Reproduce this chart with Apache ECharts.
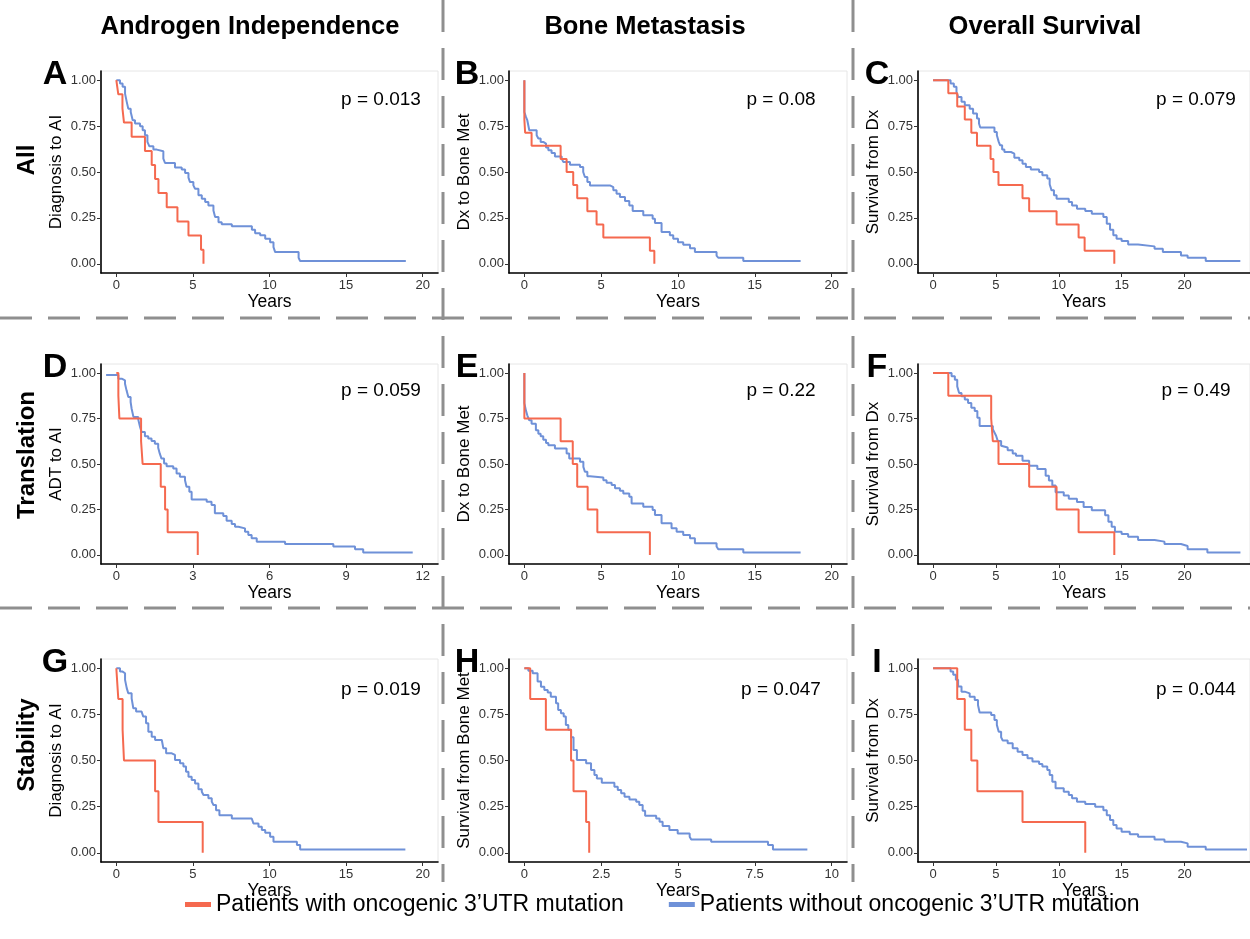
<!DOCTYPE html>
<html>
<head>
<meta charset="utf-8">
<script src="https://cdn.jsdelivr.net/npm/echarts@6/dist/echarts.min.js"></script>
<style>
  html, body { margin: 0; background: #fff; }
  #chart { width: 1250px; height: 939px; }
</style>
</head>
<body>
<div id="chart"></div>
<script>
// Kaplan-Meier curves, [years, survival] pairs
const aWith = [[0,1],[0.13,0.923],[0.4,0.846],[0.5,0.769],[1.0,0.692],[1.87,0.615],[2.31,0.538],[2.53,0.462],[2.75,0.385],[3.29,0.308],[3.99,0.231],[4.71,0.154],[5.53,0.077],[5.69,0]];
const aWithout = [[0,1],[0.24,0.982],[0.41,0.964],[0.57,0.927],[0.68,0.882],[0.78,0.845],[0.94,0.827],[1.07,0.782],[1.22,0.764],[1.55,0.749],[1.72,0.727],[1.87,0.70],[2.03,0.664],[2.16,0.64],[2.42,0.622],[2.64,0.613],[3.07,0.573],[3.18,0.549],[3.83,0.524],[4.27,0.513],[4.49,0.495],[4.71,0.469],[4.81,0.445],[5.03,0.427],[5.14,0.409],[5.36,0.373],[5.58,0.355],[5.80,0.336],[6.01,0.318],[6.34,0.291],[6.45,0.255],[6.67,0.227],[6.88,0.215],[7.54,0.204],[8.85,0.185],[9.06,0.167],[9.39,0.155],[9.72,0.136],[10.04,0.118],[10.26,0.091],[10.37,0.064],[11.90,0.033],[12.0,0.015],[18.9,0.015]];

const bWith = [[0,1],[0,0.786],[0.05,0.714],[0.47,0.643],[2.36,0.571],[2.75,0.5],[3.18,0.429],[3.44,0.357],[4.1,0.286],[4.7,0.214],[5.14,0.143],[8.17,0.071],[8.46,0]];
const bWithout = [[0,1],[0,0.827],[0.10,0.80],[0.19,0.782],[0.32,0.727],[0.80,0.70],[0.91,0.682],[1.06,0.664],[1.23,0.655],[1.41,0.633],[1.56,0.618],[1.77,0.604],[1.99,0.585],[2.43,0.573],[2.53,0.555],[2.97,0.54],[3.62,0.527],[3.83,0.5],[3.94,0.473],[4.1,0.445],[4.27,0.427],[5.57,0.418],[5.79,0.4],[6.0,0.382],[6.22,0.364],[6.55,0.342],[6.83,0.318],[7.05,0.287],[7.74,0.264],[8.35,0.245],[8.5,0.222],[8.93,0.173],[9.47,0.155],[9.69,0.136],[10.0,0.118],[10.34,0.104],[10.78,0.085],[11.1,0.064],[12.51,0.045],[12.62,0.033],[14.25,0.015],[17.98,0.015]];

const cWith = [[0,1],[1.21,0.929],[1.92,0.857],[2.52,0.786],[3.04,0.714],[3.49,0.643],[4.57,0.571],[4.80,0.5],[5.20,0.429],[7.11,0.357],[7.64,0.286],[9.82,0.214],[11.57,0.143],[12.05,0.071],[14.41,0]];
const cWithout = [[0,1],[1.39,0.982],[1.65,0.964],[1.86,0.936],[1.99,0.909],[2.26,0.882],[2.52,0.864],[2.91,0.845],[3.18,0.818],[3.49,0.791],[3.65,0.764],[3.75,0.742],[4.88,0.718],[5.07,0.70],[5.22,0.664],[5.33,0.645],[5.49,0.622],[5.67,0.609],[6.19,0.6],[6.46,0.578],[6.85,0.564],[7.11,0.545],[7.38,0.527],[7.77,0.513],[8.43,0.5],[8.69,0.482],[9.08,0.464],[9.27,0.433],[9.42,0.4],[9.61,0.373],[9.82,0.355],[10.79,0.336],[11.05,0.318],[11.44,0.3],[12.1,0.287],[12.62,0.273],[13.54,0.255],[13.81,0.218],[14.07,0.185],[14.33,0.155],[14.59,0.136],[14.99,0.124],[15.51,0.105],[16.3,0.095],[17.61,0.082],[18.27,0.064],[19.71,0.045],[20.24,0.033],[21.68,0.015],[24.43,0.015]];

const dWith = [[0,1],[0.08,0.875],[0.12,0.75],[0.97,0.625],[1.03,0.5],[1.74,0.375],[1.91,0.25],[2.01,0.125],[3.19,0]];
const dWithout = [[-0.4,0.99],[0.08,0.969],[0.21,0.96],[0.34,0.941],[0.40,0.905],[0.47,0.868],[0.56,0.841],[0.60,0.804],[0.67,0.759],[0.86,0.744],[0.93,0.704],[0.99,0.676],[1.12,0.653],[1.25,0.64],[1.38,0.627],[1.51,0.612],[1.64,0.59],[1.70,0.558],[1.77,0.53],[1.87,0.503],[1.97,0.488],[2.23,0.475],[2.36,0.448],[2.49,0.43],[2.69,0.411],[2.75,0.375],[2.86,0.347],[2.95,0.305],[3.54,0.293],[3.73,0.274],[3.86,0.229],[4.19,0.214],[4.32,0.188],[4.52,0.17],[4.65,0.155],[4.78,0.146],[5.04,0.128],[5.17,0.11],[5.30,0.091],[5.50,0.073],[6.61,0.06],[8.50,0.046],[9.35,0.031],[9.67,0.013],[11.61,0.013]];

const eWith = [[0,1],[0,0.75],[2.36,0.625],[3.15,0.5],[3.44,0.375],[4.12,0.25],[4.75,0.125],[8.17,0]];
const eWithout = [[0,1],[0,0.835],[0.10,0.795],[0.19,0.768],[0.32,0.74],[0.47,0.722],[0.75,0.686],[0.91,0.667],[1.06,0.653],[1.23,0.634],[1.41,0.616],[1.56,0.603],[1.99,0.585],[2.75,0.558],[2.92,0.53],[3.62,0.512],[3.84,0.484],[3.94,0.457],[4.1,0.433],[4.27,0.426],[5.14,0.411],[5.35,0.397],[5.68,0.384],[5.9,0.366],[6.22,0.353],[6.44,0.338],[6.83,0.32],[6.98,0.283],[7.74,0.265],[8.35,0.247],[8.5,0.219],[8.93,0.174],[9.58,0.146],[9.91,0.128],[10.34,0.11],[10.78,0.091],[11.1,0.064],[12.51,0.046],[12.62,0.031],[14.25,0.013],[17.98,0.013]];

const fWith = [[0,1],[1.21,0.875],[4.62,0.75],[4.75,0.625],[5.2,0.5],[7.64,0.375],[9.82,0.25],[11.57,0.125],[14.41,0]];
const fWithout = [[0,1],[1.47,0.982],[1.73,0.964],[1.92,0.927],[2.07,0.891],[2.26,0.873],[2.52,0.855],[2.78,0.836],[3.04,0.809],[3.31,0.791],[3.52,0.755],[3.7,0.709],[4.75,0.691],[4.88,0.673],[5.01,0.655],[5.14,0.627],[5.41,0.6],[5.54,0.591],[5.93,0.576],[6.33,0.558],[6.59,0.545],[7.11,0.518],[7.64,0.491],[8.29,0.473],[8.95,0.436],[9.21,0.409],[9.48,0.382],[9.74,0.345],[10.39,0.327],[10.79,0.309],[11.44,0.291],[11.97,0.264],[12.62,0.245],[13.68,0.218],[13.94,0.182],[14.2,0.155],[14.46,0.127],[14.99,0.115],[15.51,0.1],[16.3,0.082],[17.61,0.073],[18.4,0.06],[19.71,0.049],[20.24,0.031],[21.81,0.013],[24.44,0.013]];

const gWith = [[0,1],[0.13,0.833],[0.41,0.667],[0.5,0.5],[2.53,0.333],[2.75,0.167],[5.64,0]];
const gWithout = [[0,1],[0.24,0.982],[0.41,0.973],[0.57,0.937],[0.68,0.892],[0.78,0.864],[1.0,0.837],[1.11,0.783],[1.29,0.765],[1.65,0.759],[1.76,0.738],[1.94,0.702],[2.09,0.656],[2.31,0.629],[2.53,0.611],[2.97,0.608],[3.07,0.566],[3.25,0.539],[3.62,0.53],[3.83,0.503],[4.16,0.485],[4.38,0.467],[4.55,0.439],[4.71,0.412],[4.92,0.394],[5.14,0.376],[5.36,0.344],[5.58,0.331],[5.69,0.313],[6.01,0.295],[6.23,0.277],[6.34,0.259],[6.51,0.231],[6.73,0.204],[7.54,0.186],[8.84,0.177],[8.95,0.159],[9.28,0.141],[9.5,0.123],[9.72,0.108],[10.04,0.087],[10.26,0.06],[11.79,0.042],[12.0,0.018],[18.87,0.018]];

const hWith = [[0,1],[0.19,0.833],[0.70,0.667],[1.52,0.5],[1.60,0.333],[2.01,0.167],[2.11,0]];
const hWithout = [[0,1],[0.13,0.987],[0.27,0.973],[0.43,0.928],[0.54,0.9],[0.65,0.882],[0.76,0.868],[0.86,0.846],[1.03,0.81],[1.1,0.774],[1.19,0.756],[1.28,0.738],[1.35,0.693],[1.43,0.666],[1.52,0.626],[1.6,0.557],[1.71,0.503],[2.01,0.485],[2.17,0.448],[2.28,0.421],[2.36,0.403],[2.52,0.38],[2.93,0.358],[3.04,0.34],[3.15,0.322],[3.26,0.304],[3.42,0.289],[3.64,0.277],[3.74,0.259],[3.85,0.228],[3.93,0.201],[4.29,0.186],[4.4,0.168],[4.5,0.145],[4.72,0.123],[4.99,0.105],[5.38,0.087],[5.43,0.072],[6.08,0.06],[7.93,0.042],[8.09,0.018],[9.21,0.018]];

const iWith = [[0,1],[1.92,0.833],[2.52,0.667],[3.04,0.5],[3.52,0.333],[7.11,0.167],[12.1,0]];
const iWithout = [[0,1],[1.39,0.982],[1.6,0.964],[1.81,0.937],[1.99,0.901],[2.26,0.873],[2.52,0.864],[2.91,0.846],[3.31,0.828],[3.57,0.801],[3.7,0.76],[4.62,0.747],[4.88,0.72],[5.07,0.693],[5.22,0.656],[5.41,0.626],[5.54,0.608],[5.93,0.593],[6.33,0.566],[6.72,0.548],[7.11,0.53],[7.51,0.512],[7.9,0.494],[8.43,0.481],[8.69,0.467],[9.08,0.448],[9.27,0.421],[9.48,0.385],[9.74,0.349],[10.39,0.331],[10.79,0.313],[11.05,0.295],[11.44,0.277],[12.1,0.264],[12.89,0.25],[13.54,0.231],[13.81,0.204],[14.07,0.177],[14.33,0.15],[14.59,0.132],[14.99,0.114],[15.64,0.101],[16.3,0.087],[17.61,0.072],[18.4,0.06],[19.71,0.051],[20.24,0.033],[21.68,0.018],[24.96,0.018]];

// tick labels
const xTicks20 = [0, 5, 10, 15, 20];
const xTicks12 = [0, 3, 6, 9, 12];
const xTicks10 = [0, 2.5, 5, 7.5, 10];
const yTicks = [0, 0.25, 0.5, 0.75, 1];

// text
const colTitles = ['Androgen Independence', 'Bone Metastasis', 'Overall Survival'];
const rowTitles = ['All', 'Translation', 'Stability'];
const letters = ['A', 'B', 'C', 'D', 'E', 'F', 'G', 'H', 'I'];
const yTitles = ['Diagnosis to AI', 'Dx to Bone Met', 'Survival from Dx',
                 'ADT to AI', 'Dx to Bone Met', 'Survival from Dx',
                 'Diagnosis to AI', 'Survival from Bone Met', 'Survival from Dx'];
const pValues = ['p = 0.013', 'p = 0.08', 'p = 0.079',
                 'p = 0.059', 'p = 0.22', 'p = 0.49',
                 'p = 0.019', 'p = 0.047', 'p = 0.044'];
const nameWith = 'Patients with oncogenic 3\u2019UTR mutation';
const nameWithout = 'Patients without oncogenic 3\u2019UTR mutation';

const withSets = [aWith, bWith, cWith, dWith, eWith, fWith, gWith, hWith, iWith];
const withoutSets = [aWithout, bWithout, cWithout, dWithout, eWithout, fWithout, gWithout, hWithout, iWithout];
const xTickSets = [xTicks20, xTicks20, xTicks20, xTicks12, xTicks20, xTicks20, xTicks20, xTicks10, xTicks20];
const xRanges = [[-1, 21], [-1, 21], [-1.2, 25.2], [-0.6, 12.6], [-1, 21], [-1.2, 25.2], [-1, 21], [-0.5, 10.5], [-1.2, 25.2]];

// layout (pixels)
const colLeft = [101, 509, 918];
const colWidth = [337, 338, 335];
const rowTop = [71, 364, 659];
const rowHeight = [202, 200, 203];
const pX = [381, 781, 1196];
const pY = [100, 391, 690];

const RED = '#F5694F';
const BLUE = '#6F91D8';
const FONT = '"Liberation Sans", Arial, Helvetica, sans-serif';

const myChart = echarts.init(document.getElementById('chart'));

const grids = [], xAxes = [], yAxes = [], series = [], graphics = [];

for (let i = 0; i < 9; i++) {
  const r = Math.floor(i / 3), c = i % 3;
  grids.push({
    left: colLeft[c], top: rowTop[r], width: colWidth[c], height: rowHeight[r],
    show: true, borderColor: '#e6e6e6', borderWidth: 1, backgroundColor: 'transparent'
  });
  xAxes.push({
    type: 'value', gridIndex: i, min: xRanges[i][0], max: xRanges[i][1],
    axisLine: { onZero: false, lineStyle: { color: '#000', width: 1.6 } },
    axisTick: { customValues: xTickSets[i], length: 4, lineStyle: { color: '#333', width: 1 } },
    axisLabel: { customValues: xTickSets[i], color: '#333', fontSize: 13, margin: 6, fontFamily: FONT },
    splitLine: { show: false },
    name: 'Years', nameLocation: 'middle', nameGap: 13,
    nameTextStyle: { color: '#000', fontSize: 17.5, fontFamily: FONT }
  });
  yAxes.push({
    type: 'value', gridIndex: i, min: -0.05, max: 1.05,
    axisLine: { onZero: false, lineStyle: { color: '#000', width: 1.6 } },
    axisTick: { customValues: yTicks, length: 4, lineStyle: { color: '#333', width: 1 } },
    axisLabel: { customValues: yTicks, color: '#333', fontSize: 13, margin: 5, fontFamily: FONT,
      formatter: (v) => v.toFixed(2) },
    splitLine: { show: false },
    name: yTitles[i], nameLocation: 'middle', nameGap: 36,
    nameTextStyle: { color: '#000', fontSize: 17, fontFamily: FONT }
  });
  // blue first so red sits on top
  series.push({
    name: nameWithout, type: 'line', xAxisIndex: i, yAxisIndex: i, step: 'end',
    showSymbol: false, symbol: 'none', color: BLUE, lineStyle: { color: BLUE, width: 2 },
    data: withoutSets[i]
  });
  series.push({
    name: nameWith, type: 'line', xAxisIndex: i, yAxisIndex: i, step: 'end',
    showSymbol: false, symbol: 'none', color: RED, lineStyle: { color: RED, width: 2 },
    data: withSets[i]
  });
  // p value + panel letter
  graphics.push({
    type: 'text', x: pX[c], y: pY[r],
    style: { text: pValues[i], fill: '#000', fontSize: 19, fontFamily: FONT, align: 'center', verticalAlign: 'middle' }
  });
  graphics.push({
    type: 'text', x: [55, 467, 877][c], y: rowTop[r] + 4,
    style: { text: letters[i], fill: '#000', fontSize: 34, fontWeight: 'bold', fontFamily: FONT, align: 'center', verticalAlign: 'middle' }
  });
}

// column headers
[250, 645, 1045].forEach((x, k) => {
  graphics.push({
    type: 'text', x: x, y: 27,
    style: { text: colTitles[k], fill: '#000', fontSize: 25.5, fontWeight: 'bold', fontFamily: FONT, align: 'center', verticalAlign: 'middle' }
  });
});
// row headers (rotated)
[160, 455, 745].forEach((y, k) => {
  graphics.push({
    type: 'text', x: 27, y: y, rotation: Math.PI / 2,
    style: { text: rowTitles[k], fill: '#000', fontSize: 24, fontWeight: 'bold', fontFamily: FONT, align: 'center', verticalAlign: 'middle' }
  });
});
// dashed separators
const dash = { stroke: '#8f8f8f', lineWidth: 3, lineDash: [32, 16] };
[443, 853].forEach((x) => {
  graphics.push({ type: 'line', shape: { x1: x, y1: 0, x2: x, y2: 882 }, style: dash, z: 0 });
});
[318, 608].forEach((y) => {
  graphics.push({ type: 'line', shape: { x1: 0, y1: y, x2: 1250, y2: y }, style: dash, z: 0 });
});

const option = {
  animation: false,
  backgroundColor: '#fff',
  textStyle: { fontFamily: FONT },
  grid: grids,
  xAxis: xAxes,
  yAxis: yAxes,
  legend: {
    data: [nameWith, nameWithout],
    left: 180, top: 888,
    icon: 'rect', itemWidth: 26, itemHeight: 5, itemGap: 45,
    textStyle: { fontSize: 23, color: '#000', fontFamily: FONT }
  },
  series: series,
  graphic: graphics
};
option && myChart.setOption(option);
window.addEventListener('resize', myChart.resize);
</script>
</body>
</html>
